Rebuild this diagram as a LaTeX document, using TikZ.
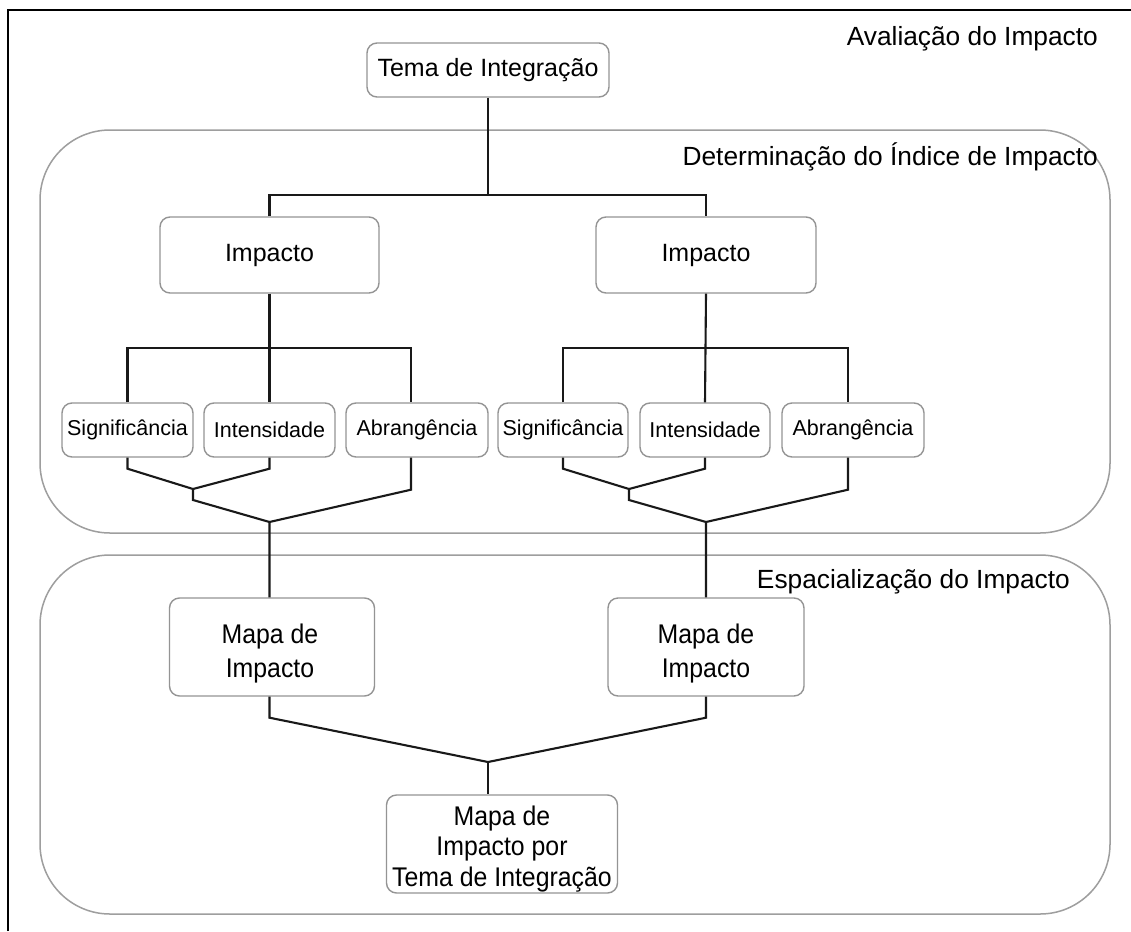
\documentclass[tikz,border=0pt]{standalone}
\usepackage{fontspec}
\setmainfont{Liberation Sans}
\newfontfamily\narrowfont[FakeStretch=0.92]{Liberation Sans}
\begin{document}
\begin{tikzpicture}[x=1pt,y=-1pt,
  boxg/.style={draw=black!42,line width=1.4pt,rounded corners=10pt,fill=white,inner sep=0pt,align=center,font=\fontsize{25}{30}\selectfont},
  subbox/.style={boxg,minimum height=54pt,font=\fontsize{21.5}{25}\selectfont},
  mapbox/.style={boxg,minimum height=98pt},
  maptext/.style={inner sep=0pt,align=center,font=\narrowfont\fontsize{27}{34}\selectfont},
  region/.style={draw=black!38,line width=1.5pt,rounded corners=70pt},
  conn/.style={draw=black!90,line width=2.1pt},
  lbl/.style={anchor=base east,inner sep=0pt,font=\fontsize{26.3}{30}\selectfont}]
\useasboundingbox (0,0) rectangle (1131,931);
\fill[white] (0,0) rectangle (1131,931);
% outer frame
\draw[black,line width=2.4pt] (8,931) -- (8,10) -- (1131,10);
% regions
\draw[region] (40,130) rectangle (1110,533);
\draw[region] (40,555) rectangle (1110,914);
% labels
\node[lbl] (lavl) at (1098,46) {Avaliação do Impacto};
\node[lbl] (ldet) at (1098,165) {Determinação do Índice de Impacto};
\node[lbl] (lesp) at (1070,588) {Espacialização do Impacto};
% boxes
\node[boxg,minimum width=242pt,minimum height=54pt] (tema) at (488,70) {Tema de Integração};
\node[boxg,minimum width=219pt,minimum height=76pt] (impL) at (269.5,255) {Impacto};
\node[boxg,minimum width=220pt,minimum height=76pt] (impR) at (706,255) {Impacto};
\node[subbox,minimum width=131pt] (sigL) at (127.5,430) {Significância};
\node[subbox,minimum width=131pt] (intL) at (269.5,430) {Intensidade};
\node[subbox,minimum width=142pt] (abrL) at (417,430) {Abrangência};
\node[subbox,minimum width=130pt] (sigR) at (563,430) {Significância};
\node[subbox,minimum width=130pt] (intR) at (705,430) {Intensidade};
\node[subbox,minimum width=142pt] (abrR) at (853,430) {Abrangência};
\node[mapbox,minimum width=205pt] (mapL) at (272,647) {};
\node[maptext] (mapLt) at (270,654) {Mapa de\\Impacto};
\node[mapbox,minimum width=196pt] (mapR) at (706,647) {};
\node[maptext] (mapRt) at (706,654) {Mapa de\\Impacto};
\node[mapbox,minimum width=231pt] (fin) at (502,844) {};
\node[maptext,font=\narrowfont\fontsize{27}{30.5}\selectfont] (fint) at (502,849) {Mapa de\\Impacto por\\Tema de Integração};
% coordinates
\coordinate (bar1) at (488,195);
\coordinate (barL) at (269.5,348);
\coordinate (barR) at (706,348);
\coordinate (jL1) at (193,489);
\coordinate (jL1b) at (193,500);
\coordinate (jL2) at (269.5,522);
\coordinate (jR1) at (629,489);
\coordinate (jR1b) at (629,500);
\coordinate (jR2) at (706,522);
\coordinate (jB) at (488,762);
% connectors
\draw[conn] (tema.south) -- (bar1);
\draw[conn] (impL.north) |- (bar1) -| (impR.north);
\draw[conn] (impL.south) -- (intL.north);
\draw[conn] (sigL.north) |- (barL) -| ([xshift=-6pt]abrL.north);
\draw[conn] (impR.south) -- (intR.north);
\draw[conn] (sigR.north) |- (barR) -| ([xshift=-5pt]abrR.north);
\draw[conn] (sigL.south) -- ++(0,11) -- (jL1) -- (jL1b) -- (jL2);
\draw[conn] (intL.south) -- ++(0,11) -- (jL1);
\draw[conn] ([xshift=-6pt]abrL.south) -- ++(0,32) -- (jL2) -- (jL2 |- mapL.north);
\draw[conn] (sigR.south) -- ++(0,11) -- (jR1) -- (jR1b) -- (jR2);
\draw[conn] (intR.south) -- ++(0,11) -- (jR1);
\draw[conn] ([xshift=-5pt]abrR.south) -- ++(0,32) -- (jR2) -- (mapR.north);
\draw[conn] (jL2 |- mapL.south) -- ++(0,21) -- (jB);
\draw[conn] (mapR.south) -- ++(0,21) -- (jB);
\draw[conn] (jB) -- (jB |- fin.north);
\end{tikzpicture}
\end{document}
